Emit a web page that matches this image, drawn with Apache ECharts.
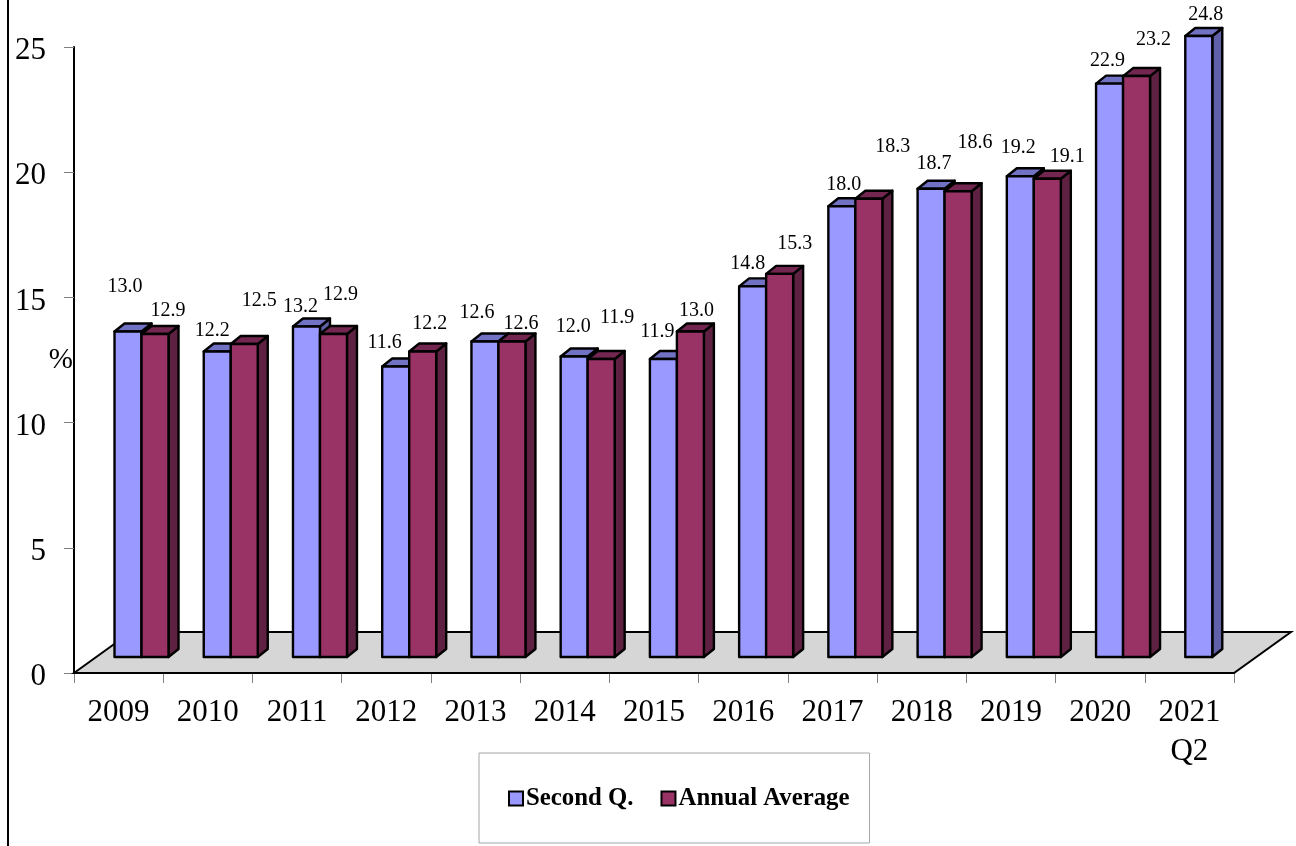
<!DOCTYPE html>
<html>
<head>
<meta charset="utf-8">
<style>
	html, body { margin: 0; padding: 0; background: #fff; }
	#chart { width: 1296px; height: 846px; }
</style>
<script src="https://cdn.jsdelivr.net/npm/echarts@6/dist/echarts.min.js"></script>
</head>
<body>
<div id="chart"></div>
<script>
var years = ['2009', '2010', '2011', '2012', '2013', '2014', '2015', '2016', '2017', '2018', '2019', '2020', '2021\nQ2'];
var secondQ = [13.0, 12.2, 13.2, 11.6, 12.6, 12.0, 11.9, 14.8, 18.0, 18.7, 19.2, 22.9, 24.8];
var annualAvg = [12.9, 12.5, 12.9, 12.2, 12.6, 11.9, 13.0, 15.3, 18.3, 18.6, 19.1, 23.2, null];

// hand placed labels in the original, offset from the top of each bar
var secondQNudge = [[-3, -45], [-5, -21], [-6, -20], [-11, -24], [-8, -29], [-1, -30], [-6, -27], [-5, -23], [2, -22], [3, -25], [-2, -28], [-2, -23], [7, -21]];
var annualNudge = [[13, -23], [15, -43], [7, -39], [7, -28], [9, -18], [16, -41], [6, -21], [15, -30], [24, -52], [17, -49], [20, -22], [17, -36], [0, 0]];

var FONT = '"Liberation Serif", serif';
var depthX = 10, depthY = 8;       // bar depth
var shiftX = 22.9, shiftY = 16;    // bars stand mid way on the floor
var floorX = 57, floorY = 41;      // floor depth
var barW = 27;

function face(points, fill) {
	return {
		type : 'polygon',
		shape : { points : points },
		style : { fill : fill, stroke : '#000', lineWidth : 2.4, lineJoin : 'round' }
	};
}

function barRenderer(values, side, colors, nudge) {
	return function (params, api) {
		var i = api.value(0);
		var v = api.value(1);
		if (isNaN(v)) {
			return;
		}
		var base = api.coord([i, 0]);
		var top = api.coord([i, v]);
		var x0 = base[0] + shiftX + (side == 0 ? -barW : 0);
		var x1 = x0 + barW;
		var y0 = base[1] - shiftY;
		var y1 = top[1] - shiftY;
		return {
			type : 'group',
			children : [
				face([[x1, y0], [x1 + depthX, y0 - depthY], [x1 + depthX, y1 - depthY], [x1, y1]], colors[2]),
				face([[x0, y1], [x0 + depthX, y1 - depthY], [x1 + depthX, y1 - depthY], [x1, y1]], colors[1]),
				face([[x0, y0], [x1, y0], [x1, y1], [x0, y1]], colors[0]),
				{
					type : 'text',
					style : {
						x : (x0 + x1) / 2 + nudge[i][0],
						y : y1 + nudge[i][1],
						text : v.toFixed(1),
						fill : '#000',
						font : '20px ' + FONT,
						align : 'center',
						verticalAlign : 'middle'
					},
					z2 : 10
				}
			]
		};
	};
}

function floorRenderer(params, api) {
	var sys = params.coordSys;
	var xl = sys.x, xr = sys.x + sys.width, y = sys.y + sys.height;
	return {
		type : 'polygon',
		shape : { points : [[xl, y], [xl + floorX, y - floorY], [xr + floorX, y - floorY], [xr, y]] },
		style : { fill : '#d6d6d6', stroke : '#000', lineWidth : 2 }
	};
}

function toData(values) {
	return values.map(function (v, i) { return [i, v]; });
}

var chart = echarts.init(document.getElementById('chart'), null, { renderer : 'canvas' });
chart.setOption({
	animation : false,
	backgroundColor : '#fff',
	grid : { left : 74, top : 47, width : 1160, height : 626, containLabel : false, outerBoundsMode : 'none' },
	graphic : [{
		type : 'line',
		shape : { x1 : 8, y1 : 0, x2 : 8, y2 : 846 },
		style : { stroke : '#000', lineWidth : 2 }
	}],
	legend : {
		left : 479,
		top : 753,
		orient : 'horizontal',
		padding : [33, 20, 32, 29],
		borderColor : '#a6a6a6',
		borderWidth : 1,
		backgroundColor : '#fff',
		itemWidth : 14,
		itemHeight : 14,
		itemGap : 27,
		icon : 'rect',
		selectedMode : false,
		textStyle : { fontFamily : FONT, fontWeight : 'bold', fontSize : 24.8, color : '#000', padding : [0, 0, 0, -2] },
		data : [
			{ name : 'Second Q.', itemStyle : { color : '#9999ff', borderColor : '#000', borderWidth : 2 } },
			{ name : 'Annual Average', itemStyle : { color : '#993366', borderColor : '#000', borderWidth : 2 } }
		]
	},
	xAxis : {
		type : 'category',
		data : years,
		boundaryGap : true,
		axisLine : { onZero : false, lineStyle : { color : '#000', width : 2 } },
		axisTick : { show : true, length : 10, lineStyle : { color : '#808080', width : 1 } },
		axisLabel : { fontFamily : FONT, fontSize : 31, color : '#000', margin : 20, lineHeight : 39, interval : 0, hideOverlap : false }
	},
	yAxis : {
		type : 'value',
		min : 0,
		max : 25,
		interval : 5,
		name : '%',
		nameLocation : 'middle',
		nameRotate : 0,
		nameGap : 1,
		nameMoveOverlap : false,
		nameTextStyle : { fontFamily : FONT, fontSize : 29, color : '#000', padding : [0, 0, 20, 0] },
		splitLine : { show : false },
		axisLine : { show : true, lineStyle : { color : '#000', width : 2 } },
		axisTick : { show : true, length : 10, lineStyle : { color : '#808080', width : 1 } },
		axisLabel : {
			margin : 28,
			formatter : '{n|{value}}',
			rich : { n : { fontFamily : FONT, fontSize : 31, color : '#000', padding : [8, 0, 0, 0] } }
		}
	},
	series : [
		{
			type : 'custom',
			name : 'floor',
			silent : true,
			z : 1,
			clip : false,
			renderItem : floorRenderer,
			data : [[0, 0]]
		},
		{
			type : 'custom',
			name : 'Second Q.',
			z : 2,
			clip : false,
			itemStyle : { color : '#9999ff' },
			renderItem : barRenderer(secondQ, 0, ['#9999ff', '#7272c4', '#6060a8'], secondQNudge),
			data : toData(secondQ)
		},
		{
			type : 'custom',
			name : 'Annual Average',
			z : 3,
			clip : false,
			itemStyle : { color : '#993366' },
			renderItem : barRenderer(annualAvg, 1, ['#993366', '#732650', '#5f2141'], annualNudge),
			data : toData(annualAvg)
		}
	]
});
</script>
</body>
</html>
